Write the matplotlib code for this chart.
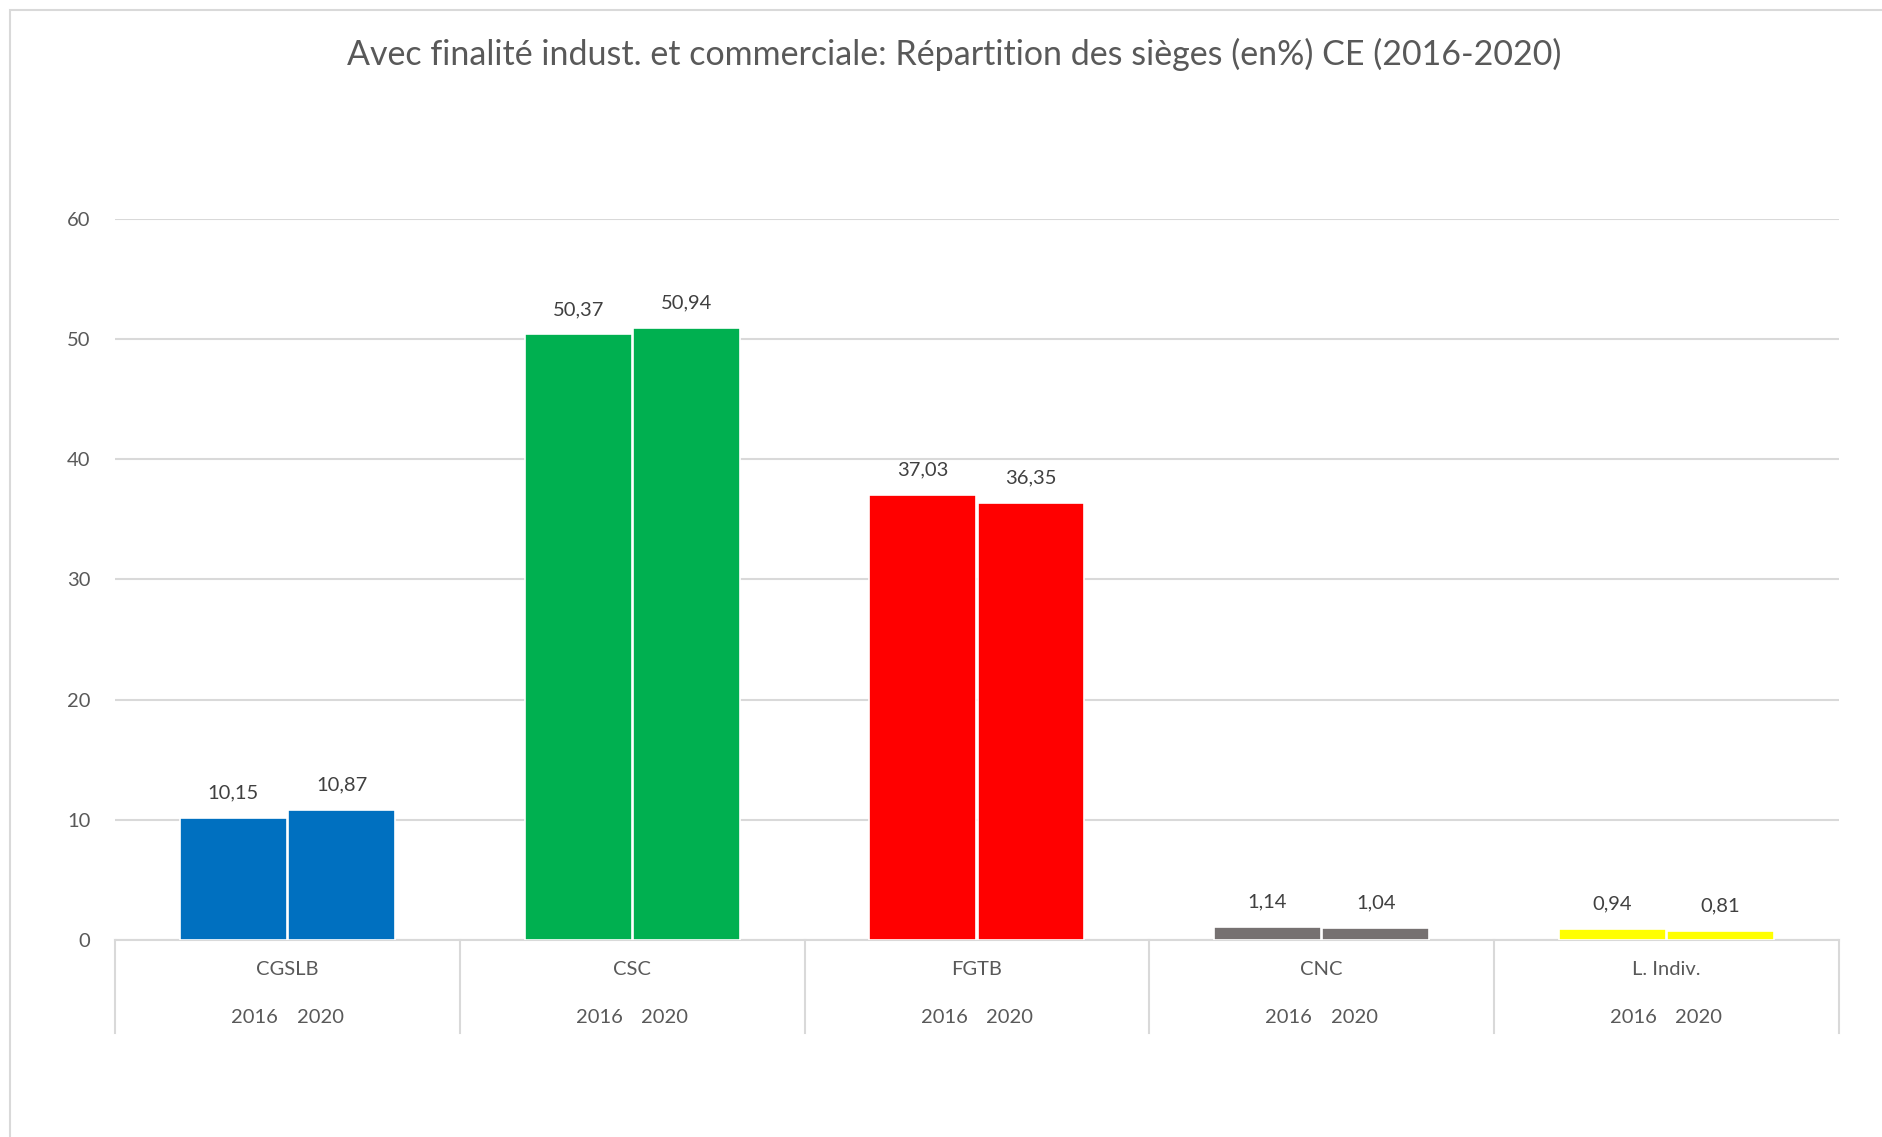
import numpy as np
import matplotlib
matplotlib.use('Agg')
import matplotlib.pyplot as plt
from matplotlib.patches import Rectangle

plt.rcParams['font.family'] = ['Lato', 'DejaVu Sans']

# donnees
categories = ['CGSLB', 'CSC', 'FGTB', 'CNC', 'L. Indiv.']
years = ['2016', '2020']
vals_2016 = [10.15, 50.37, 37.03, 1.14, 0.94]
vals_2020 = [10.87, 50.94, 36.35, 1.04, 0.81]
colors = ['#0070C0', '#00B050', '#FF0000', '#767171', '#FFFF00']

txt = '#595959'
grid = '#d9d9d9'

fig = plt.figure(figsize=(18.83, 11.37), dpi=100)
# cadre gris clair (capture d'ecran Excel)
fig.patches.append(Rectangle((10 / 1883, -0.1), 1.2, 1 - 10 / 1137 + 0.1,
                             transform=fig.transFigure, fill=False,
                             edgecolor=grid, lw=1.5))

ax = fig.add_axes([0.0612, 0.173, 0.9152, 0.6347])

x = np.arange(len(categories))
w = 0.31
off = 0.157
b1 = ax.bar(x - off, vals_2016, w, color=colors, edgecolor='white', lw=1.2, zorder=3)
b2 = ax.bar(x + off, vals_2020, w, color=colors, edgecolor='white', lw=1.2, zorder=3)

for bars, vals in ((b1, vals_2016), (b2, vals_2020)):
    for r, v in zip(bars, vals):
        ax.annotate(f'{v:.2f}'.replace('.', ','), (r.get_x() + r.get_width() / 2, v),
                    xytext=(0, 18), textcoords='offset points',
                    ha='center', va='center', fontsize=14.5, color='#404040')

ax.set_xlim(-0.5, len(categories) - 0.5)
ax.set_ylim(0, 60)
ax.set_yticks(range(0, 61, 10))
ax.tick_params(axis='y', length=0, labelsize=14.5, labelcolor=txt, pad=18)
ax.set_xticks([])
ax.yaxis.grid(True, color=grid, lw=1.5, zorder=0)
for s in ['top', 'right', 'left']:
    ax.spines[s].set_visible(False)
ax.spines['bottom'].set_color(grid)
ax.spines['bottom'].set_linewidth(1.5)

# axe multi-niveaux en bas
tr = ax.get_xaxis_transform()
for xs in np.arange(-0.5, len(categories), 1.0):
    ax.plot([xs, xs], [0, -0.128], transform=tr, color=grid, lw=1.5, clip_on=False)
for i, c in enumerate(categories):
    ax.text(i, -0.041, c, transform=tr, ha='center', va='center', fontsize=14.5, color=txt)
    ax.text(i - 0.095, -0.107, years[0], transform=tr, ha='center', va='center', fontsize=14.5, color=txt)
    ax.text(i + 0.095, -0.107, years[1], transform=tr, ha='center', va='center', fontsize=14.5, color=txt)

fig.text(0.507, 1 - 54 / 1137, 'Avec finalité indust. et commerciale: Répartition des sièges (en%) CE (2016-2020)',
         ha='center', va='center', fontsize=24.5, color=txt)

fig.savefig('out.png', dpi=100)
